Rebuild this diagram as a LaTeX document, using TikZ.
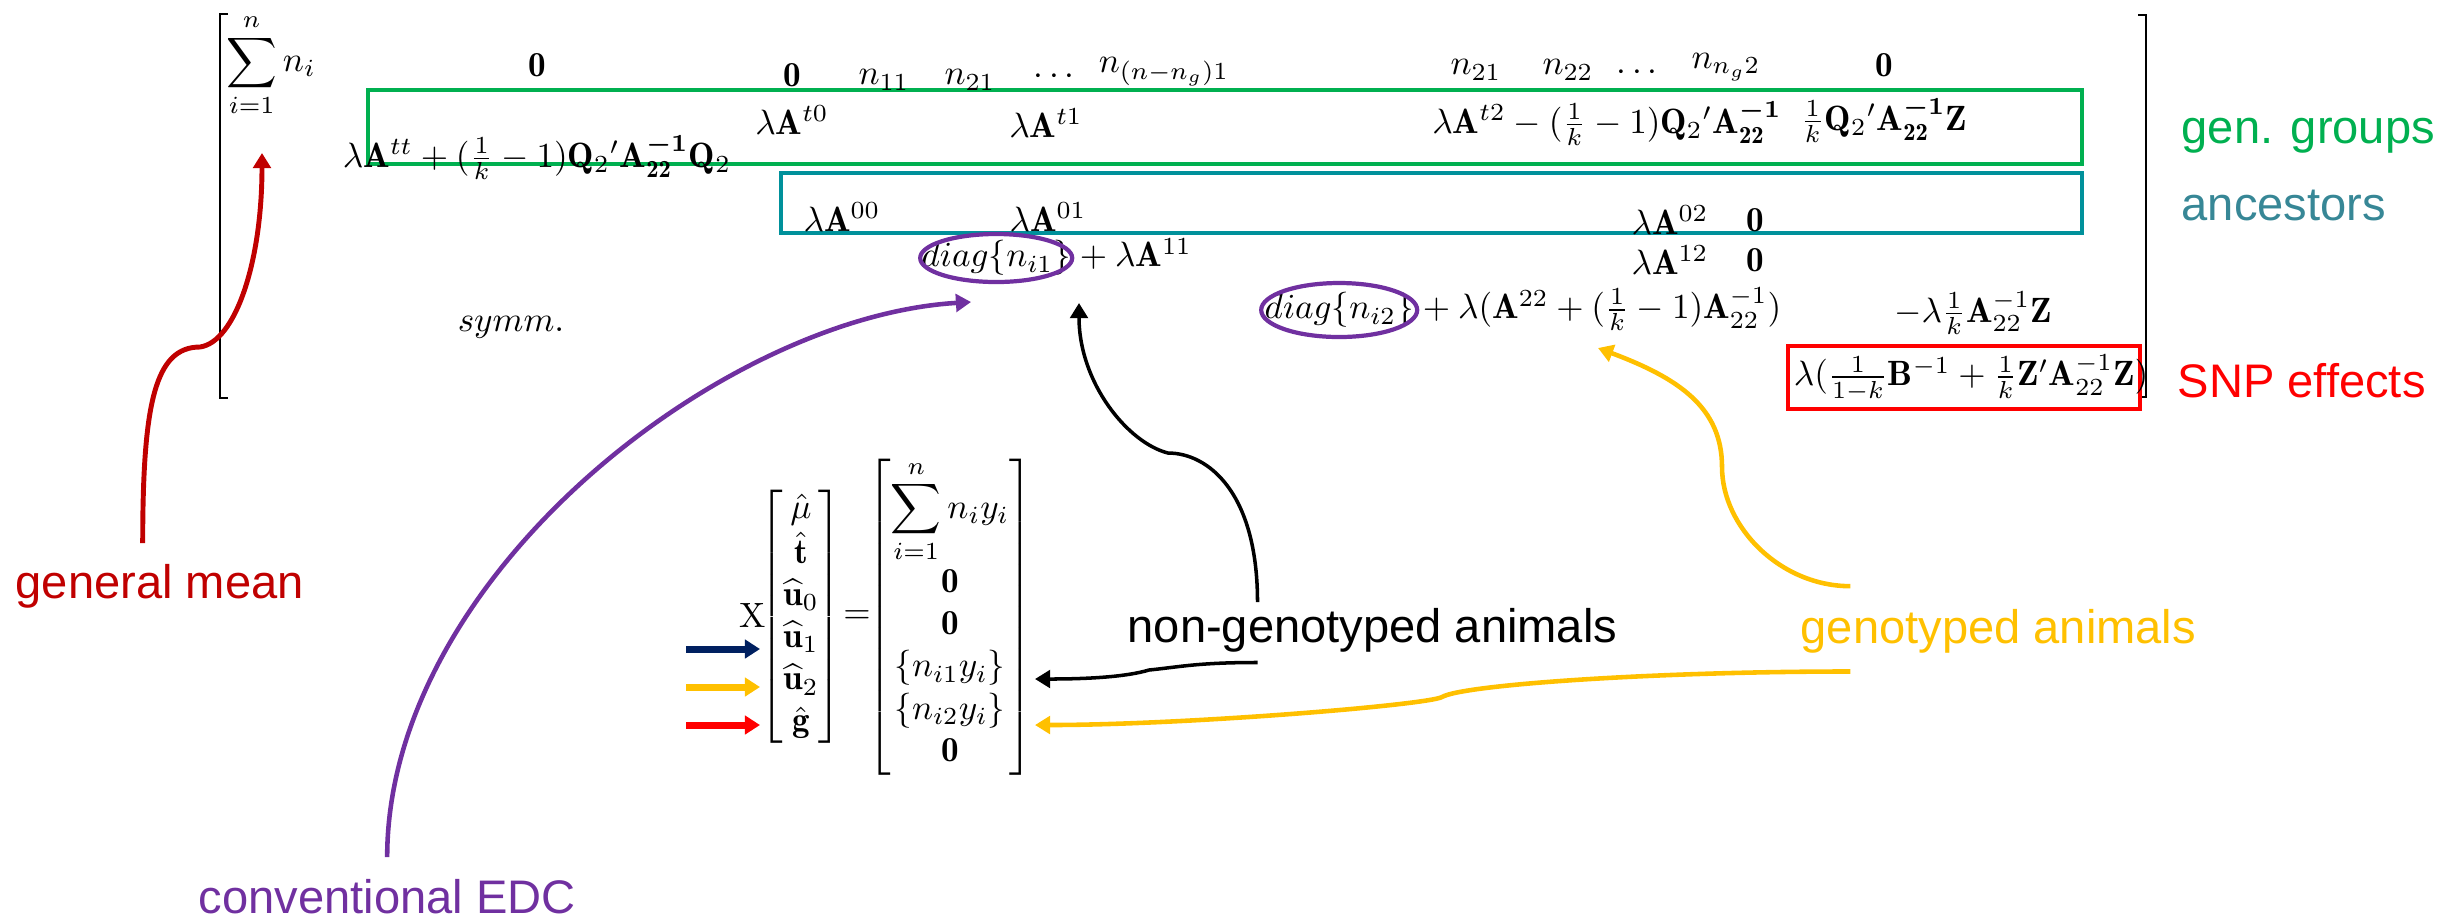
\documentclass[tikz,border=0pt]{standalone}
\usepackage{amsmath}
\usepackage{fontspec}
\newfontfamily\lblfont{Liberation Sans}
\usetikzlibrary{arrows.meta}

\definecolor{ggreen}{RGB}{0,176,80}
\definecolor{ateal}{RGB}{0,145,155}
\definecolor{ancteal}{RGB}{55,135,150}
\definecolor{snpred}{RGB}{255,0,0}
\definecolor{meanred}{RGB}{192,0,0}
\definecolor{edcpurple}{RGB}{112,48,160}
\definecolor{genogold}{RGB}{255,192,0}
\definecolor{navyblue}{RGB}{0,32,96}

% inverse of A22, plain and bold
\newcommand{\Ainv}{\mathbf{A}^{-1}_{22}}
\newcommand{\Abinv}{\mathbf{A}^{\boldsymbol{-1}}_{\mathbf{22}}}

\tikzset{
  ent/.style={inner sep=0pt},
  lbl/.style={inner sep=0pt, anchor=base west, font=\lblfont\fontsize{13.4}{16}\selectfont},
  callout/.style={line width=1.3pt, -{Triangle[length=4.3pt,width=5pt]}},
  tick/.style={line width=2pt, -{Triangle[length=4.3pt,width=5.2pt]}},
  blockbox/.style={line width=1.2pt},
}

\begin{document}
\begin{tikzpicture}[x=0.1mm, y=-0.1mm]
  \useasboundingbox (0,0) rectangle (2461,919);

  % brackets of the coefficient matrix
  \draw[line width=0.8pt] (228,14) -- (220,14) -- (220,398) -- (228,398);
  \draw[line width=0.8pt] (2138,15) -- (2146,15) -- (2146,397) -- (2138,397);

  % blocks
  \draw[blockbox, ggreen] (368,90) rectangle (2082,164);
  \draw[blockbox, ateal] (781,173) rectangle (2082,233);
  \draw[blockbox, snpred] (1788,346) rectangle (2140,409);

  % first row
  \node[ent] (s0) at (271,65) {$\displaystyle\sum_{i=1}^{n} n_i$};
  \node[ent] (z01) at (537,65) {$\mathbf{0}$};
  \node[ent] (z02) at (792,75) {$\mathbf{0}$};
  \node[ent] (n11) at (884,80) {$n_{11}$};
  \node[ent] (n21a) at (970,80) {$n_{21}$};
  \node[ent] (d1) at (1057,77) {$\cdots$};
  \node[ent] (nl1) at (1164,72) {$n_{(n-n_g)1}$};
  \node[ent] (n21b) at (1476,70) {$n_{21}$};
  \node[ent] (n22) at (1568,70) {$n_{22}$};
  \node[ent] (d2) at (1640,73) {$\cdots$};
  \node[ent] (nl2) at (1726,67) {$n_{n_g2}$};
  \node[ent] (z03) at (1884,65) {$\mathbf{0}$};

  % genetic groups
  \node[ent] (t0) at (792,120) {$\lambda\mathbf{A}^{t0}$};
  \node[ent] (t1) at (1046,123) {$\lambda\mathbf{A}^{t1}$};
  \node[ent] (t2) at (1607,123) {$\lambda\mathbf{A}^{t2}-(\frac{1}{k}-1)\mathbf{Q}_2{}'\Abinv$};
  \node[ent] (tg) at (1884,120) {$\frac{1}{k}\mathbf{Q}_2{}'\Abinv\mathbf{Z}$};
  \node[ent] (tt) at (537,157) {$\lambda\mathbf{A}^{tt}+(\frac{1}{k}-1)\mathbf{Q}_2{}'\Abinv\mathbf{Q}_2$};

  % ancestors
  \node[ent] (a00) at (842,217) {$\lambda\mathbf{A}^{00}$};
  \node[ent] (a01) at (1048,217) {$\lambda\mathbf{A}^{01}$};
  \node[ent] (a02) at (1670,220) {$\lambda\mathbf{A}^{02}$};
  \node[ent] (z2) at (1755,220) {$\mathbf{0}$};

  % animals and SNP effects
  \node[ent, anchor=west] (dg1) at (921,258) {$diag\{n_{i1}\}$};
  \node[ent, anchor=base west] (a11) at (dg1.base east) {${}+\lambda\mathbf{A}^{11}$};
  \node[ent] (a12) at (1670,260) {$\lambda\mathbf{A}^{12}$};
  \node[ent] (z3) at (1755,260) {$\mathbf{0}$};
  \node[ent] (sym) at (511,327) {$symm.$};
  \node[ent, anchor=west] (dg2) at (1264,310) {$diag\{n_{i2}\}$};
  \node[ent, anchor=base west] (a22) at (dg2.base east) {${}+\lambda(\mathbf{A}^{22}+(\frac{1}{k}-1)\Ainv)$};
  \node[ent] (a2g) at (1973,313) {$-\lambda\frac{1}{k}\Ainv\mathbf{Z}$};
  \node[ent] (agg) at (1971,378) {$\lambda(\frac{1}{1-k}\mathbf{B}^{-1}+\frac{1}{k}\mathbf{Z}'\Ainv\mathbf{Z})$};

  \draw[edcpurple, line width=1.2pt] (dg1.center) ellipse [x radius=0.76cm, y radius=0.24cm];
  \draw[edcpurple, line width=1.2pt] (dg2.center) ellipse [x radius=0.78cm, y radius=0.27cm];

  % solutions and right hand side
  \node[ent] (xlab) at (753,615) {X};
  \node[ent] (lvec) at (801,617) {$\begin{bmatrix}\hat{\mu}\\ \hat{\mathbf{t}}\\ \widehat{\mathbf{u}}_0\\ \widehat{\mathbf{u}}_1\\ \widehat{\mathbf{u}}_2\\ \hat{\mathbf{g}}\end{bmatrix}$};
  \node[ent] (eq) at (857,617) {$=$};
  \node[ent] (rvec) at (950,617) {$\begin{bmatrix}\displaystyle\sum_{i=1}^{n} n_iy_i\\ \mathbf{0}\\ \mathbf{0}\\ \{n_{i1}y_i\}\\ \{n_{i2}y_i\}\\ \mathbf{0}\end{bmatrix}$};

  % labels
  \node[lbl, ggreen] (ggrp) at (2181,143) {gen. groups};
  \node[lbl, ancteal] (anc) at (2181,220) {ancestors};
  \node[lbl, snpred] (snp) at (2177,397) {SNP effects};
  \node[lbl, meanred] (gmean) at (15,598) {general mean};
  \node[lbl, edcpurple] (edc) at (198,913) {conventional EDC};
  \node[lbl] (ngeno) at (1127,642) {non-genotyped animals};
  \node[lbl, genogold] (geno) at (1800,643) {genotyped animals};

  % arrow ends
  \coordinate (meanbend) at (200,347);
  \coordinate (meantip) at (262,153);
  \coordinate (edctip) at (971,302);
  \coordinate (ngbend) at (1168,453);
  \coordinate (ngtip) at (1079,303);
  \coordinate (ngbend2) at (1149,670);
  \coordinate (ni1tip) at (1035,679);
  \coordinate (gbend) at (1722,467);
  \coordinate (gtip) at (1598,348);
  \coordinate (gbend2) at (1442,697);
  \coordinate (ni2tip) at (1035,725);
  \coordinate (u1) at (760,649);
  \coordinate (u2) at (760,687);
  \coordinate (gh) at (760,725);

  \draw[callout, meanred, line width=1.4pt] ([shift={(-17,-20)}]gmean.north)
    .. controls +(0,-140) and +(-45,0) .. (meanbend)
    .. controls +(35,-5) and +(0,110) .. (meantip);
  \draw[callout, edcpurple, shorten <=0.21cm] (edc.north)
    .. controls +(0,-300) and +(-250,15) .. (edctip);
  \draw[callout, black, line width=1pt] ([shift={(-115,-5)}]ngeno.north)
    .. controls +(0,-110) and +(40,0) .. (ngbend)
    .. controls +(-40,-10) and +(0,80) .. (ngtip);
  \draw[callout, black, line width=1pt] ([shift={(-115,10)}]ngeno.south)
    .. controls +(-60,0) and +(30,-3) .. (ngbend2)
    .. controls +(-20,6) and +(60,0) .. (ni1tip);
  \draw[callout, genogold] ([shift={(-148,-22)}]geno.north)
    .. controls +(-70,0) and +(0,60) .. (gbend)
    .. controls +(0,-60) and +(80,30) .. (gtip);
  \draw[callout, genogold] ([shift={(-148,18)}]geno.south)
    .. controls +(-200,0) and +(20,-12) .. (gbend2)
    .. controls +(-15,8) and +(150,0) .. (ni2tip);

  % pointers to the solutions
  \draw[tick, navyblue] ([xshift=-0.74cm]u1) -- (u1);
  \draw[tick, genogold] ([xshift=-0.74cm]u2) -- (u2);
  \draw[tick, snpred] ([xshift=-0.74cm]gh) -- (gh);
\end{tikzpicture}
\end{document}
